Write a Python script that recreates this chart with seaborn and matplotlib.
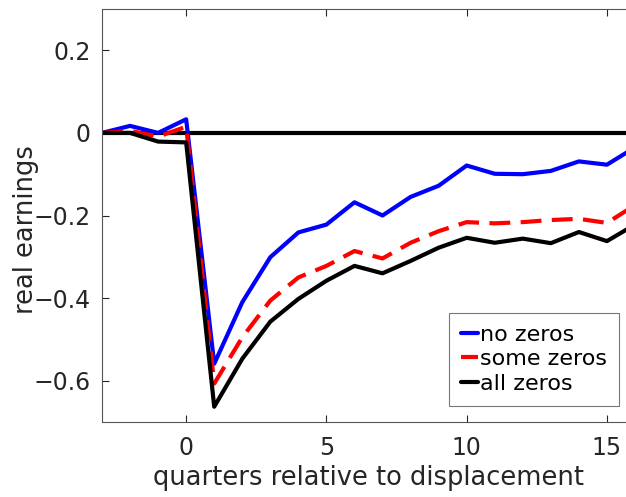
import numpy as np
import pandas as pd
import seaborn as sns
import matplotlib.pyplot as plt

quarters = list(range(-3, 17))
no_zeros = [0.0, 0.017, 0.0, 0.033, -0.559, -0.41, -0.301, -0.241, -0.222,
            -0.168, -0.200, -0.155, -0.128, -0.079, -0.099, -0.100, -0.092,
            -0.069, -0.077, -0.035]
some_zeros = [0.0, 0.005, -0.009, 0.015, -0.607, -0.495, -0.406, -0.350, -0.322,
              -0.286, -0.304, -0.266, -0.238, -0.216, -0.219, -0.216, -0.211,
              -0.208, -0.218, -0.175]
all_zeros = [0.0, 0.0, -0.021, -0.023, -0.663, -0.547, -0.457, -0.402, -0.358,
             -0.322, -0.340, -0.310, -0.278, -0.254, -0.266, -0.256, -0.267,
             -0.240, -0.262, -0.222]

sns.set_style("white")
plt.rcParams["font.family"] = ["DejaVu Sans"]
text_col = "#262626"

fig = plt.figure(figsize=(6.26, 4.97), dpi=100)
# axes runs a little past the right edge of the picture (cropped at x=16)
ax = fig.add_axes([102 / 626, 75 / 497, 533 / 626, 413 / 497])

ax.axhline(0, color="black", lw=3, zorder=1)
sns.lineplot(x=quarters, y=no_zeros, ax=ax, color="#0000ff", lw=3, label="no zeros")
sns.lineplot(x=quarters, y=some_zeros, ax=ax, color="#ff0000", lw=3,
             label="some zeros", linestyle=(0, (5, 2.5)))
sns.lineplot(x=quarters, y=all_zeros, ax=ax, color="black", lw=3, label="all zeros")

ax.set_xlim(-3, 16)
ax.set_ylim(-0.7, 0.3)
ax.set_xticks([0, 5, 10, 15])
ax.set_yticks([-0.6, -0.4, -0.2, 0, 0.2])
ax.set_yticklabels(["\u22120.6", "\u22120.4", "\u22120.2", "0", "0.2"])
ax.tick_params(direction="in", length=5, width=0.8, color=text_col,
               labelsize=17, labelcolor=text_col, top=True, right=False,
               bottom=True, left=True)
ax.tick_params(axis="y", pad=8)
ax.tick_params(axis="x", pad=10)
for s in ["left", "bottom", "top"]:
    ax.spines[s].set_color("#555555")
    ax.spines[s].set_linewidth(0.8)
ax.spines["right"].set_visible(False)

ax.set_xlabel("quarters relative to displacement", fontsize=18.5, color=text_col)
ax.set_ylabel("real earnings", fontsize=18.5, color=text_col)
ax.xaxis.set_label_coords(0.5, -0.105)
ax.yaxis.set_label_coords(-0.118, 0.467)

leg = ax.legend(loc="lower right", bbox_to_anchor=(517 / 533, 0.039), fontsize=16,
                handlelength=0.75, handletextpad=0.1, labelspacing=0.2,
                borderpad=0.55, borderaxespad=0, frameon=True, fancybox=False)
leg.get_frame().set_edgecolor("#555555")
leg.get_frame().set_linewidth(0.8)
for t in leg.get_texts():
    t.set_color("black")

fig.savefig("out.png", dpi=100)
